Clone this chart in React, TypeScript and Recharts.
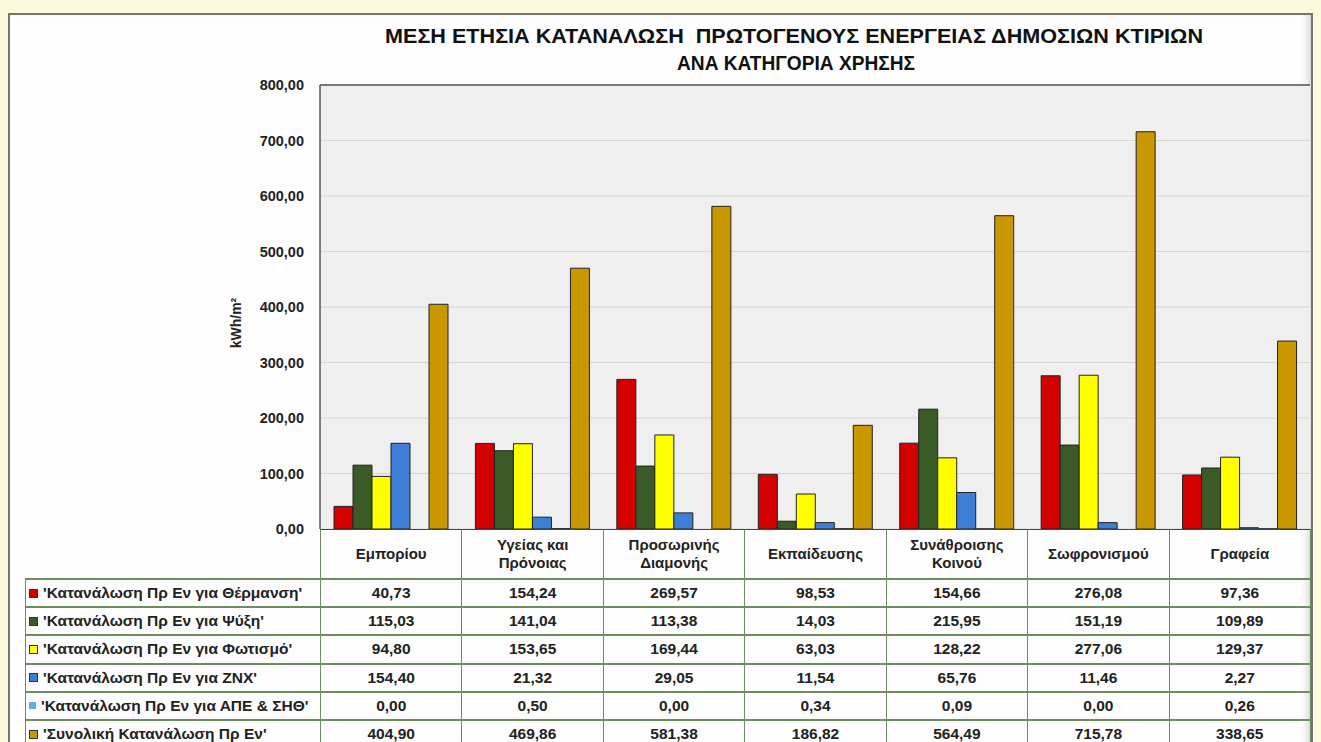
import React from 'react';
import { BarChart, Bar, XAxis, YAxis, CartesianGrid, ReferenceLine } from 'recharts';

const categories = [
  'Εμπορίου',
  'Υγείας και\nΠρόνοιας',
  'Προσωρινής\nΔιαμονής',
  'Εκπαίδευσης',
  'Συνάθροισης\nΚοινού',
  'Σωφρονισμού',
  'Γραφεία',
];

const heating = [40.73, 154.24, 269.57, 98.53, 154.66, 276.08, 97.36];
const cooling = [115.03, 141.04, 113.38, 14.03, 215.95, 151.19, 109.89];
const lighting = [94.8, 153.65, 169.44, 63.03, 128.22, 277.06, 129.37];
const dhw = [154.4, 21.32, 29.05, 11.54, 65.76, 11.46, 2.27];
const resChp = [0.0, 0.5, 0.0, 0.34, 0.09, 0.0, 0.26];
const total = [404.9, 469.86, 581.38, 186.82, 564.49, 715.78, 338.65];

const seriesNames = [
  "'Κατανάλωση Πρ Εν για Θέρμανση'",
  "'Κατανάλωση Πρ Εν για Ψύξη'",
  "'Κατανάλωση Πρ Εν για Φωτισμό'",
  "'Κατανάλωση Πρ Εν για ΖΝΧ'",
  "'Κατανάλωση Πρ Εν για ΑΠΕ & ΣΗΘ'",
  "'Συνολική Κατανάλωση Πρ Εν'",
];
const seriesValues = [heating, cooling, lighting, dhw, resChp, total];
const seriesColors = ['#d40000', '#3a5a28', '#ffff00', '#3d7ed6', '#5aaeea', '#c99700'];

const yTicks = [0, 100, 200, 300, 400, 500, 600, 700, 800];

const data = categories.map((c, i) => {
  const row: Record<string, any> = { name: c };
  seriesValues.forEach((s, k) => {
    row['s' + k] = s[i];
  });
  return row;
});

const font = '"Liberation Sans", Arial, sans-serif';
const fmt = (v: number) => v.toFixed(2).replace('.', ',');

// layout (page px)
const plotLeft = 320;
const plotRight = 1310;
const plotTop = 85;
const plotBottom = 529;
const colW = (plotRight - plotLeft) / categories.length;
const headerH = 49;
const rowH = 28.2;
const gridColor = '#6f8c60';

const App: React.FC = () => {
  return (
    <div
      style={{
        position: 'absolute',
        left: 0,
        top: 0,
        width: 1321,
        height: 742,
        overflow: 'hidden',
        background: '#fcf9dc',
        fontFamily: font,
      }}
    >
      <div
        style={{
          position: 'absolute',
          left: 8,
          top: 13,
          width: 1305,
          height: 740,
          border: '2px solid #76766e',
          boxSizing: 'border-box',
          background: '#fdfdfd',
          boxShadow: 'inset -8px 0 8px -6px #c8c8c8',
        }}
      />
      <div style={{ position: 'absolute', left: 0, top: 0 }}>
        <BarChart
          width={1321}
          height={742}
          data={data}
          margin={{ top: plotTop, right: 1321 - plotRight, bottom: 742 - plotBottom, left: 240 }}
          barCategoryGap={14}
          barGap={0}
        >
          <CartesianGrid vertical={false} stroke="#d6d6d6" fill="#efefef" />
          <XAxis dataKey="name" hide />
          <YAxis
            width={80}
            domain={[0, 800]}
            ticks={yTicks}
            interval={0}
            tickFormatter={fmt}
            tickLine={false}
            tickSize={0}
            tickMargin={16}
            axisLine={{ stroke: '#555', strokeWidth: 1.5 }}
            tick={{ fill: '#222', fontSize: 14.5, fontWeight: 'bold', fontFamily: font }}
          />
          <ReferenceLine y={800} stroke="#555" strokeWidth={1.5} />
          {seriesNames.map((n, k) => (
            <Bar
              key={n}
              dataKey={'s' + k}
              name={n}
              fill={seriesColors[k]}
              stroke="#222"
              strokeWidth={1}
              isAnimationActive={false}
            />
          ))}
        </BarChart>
      </div>

      <svg
        width={1321}
        height={742}
        style={{ position: 'absolute', left: 0, top: 0, pointerEvents: 'none' }}
      >
        <text
          x={794}
          y={43}
          textAnchor="middle"
          fontSize={21}
          fontWeight="bold"
          fill="#111"
          textLength={818}
          lengthAdjust="spacingAndGlyphs"
          style={{ whiteSpace: 'pre' }}
        >
          ΜΕΣΗ ΕΤΗΣΙΑ ΚΑΤΑΝΑΛΩΣΗ  ΠΡΩΤΟΓΕΝΟΥΣ ΕΝΕΡΓΕΙΑΣ ΔΗΜΟΣΙΩΝ ΚΤΙΡΙΩΝ
        </text>
        <text
          x={796}
          y={70}
          textAnchor="middle"
          fontSize={21}
          fontWeight="bold"
          fill="#111"
          textLength={238}
          lengthAdjust="spacingAndGlyphs"
        >
          ΑΝΑ ΚΑΤΗΓΟΡΙΑ ΧΡΗΣΗΣ
        </text>
        <text
          x={0}
          y={0}
          transform="translate(241, 323) rotate(-90)"
          textAnchor="middle"
          fontSize={14}
          fontWeight="bold"
          fill="#222"
        >
          kWh/m²
        </text>
      </svg>

      {/* data table */}
      {categories.map((c, i) => (
        <div
          key={c}
          style={{
            position: 'absolute',
            left: plotLeft + i * colW,
            top: plotBottom,
            width: colW,
            height: headerH,
            boxSizing: 'border-box',
            borderLeft: `1.5px solid ${gridColor}`,
            borderTop: '1.5px solid #444',
            display: 'flex',
            alignItems: 'center',
            justifyContent: 'center',
            textAlign: 'center',
            whiteSpace: 'pre-line',
            fontSize: 15,
            fontWeight: 'bold',
            color: '#222',
            lineHeight: '18px',
          }}
        >
          {c}
        </div>
      ))}
      {seriesNames.map((n, k) => (
        <React.Fragment key={n}>
          <div
            style={{
              position: 'absolute',
              left: 25,
              top: plotBottom + headerH + k * rowH,
              width: plotLeft - 25,
              height: rowH,
              boxSizing: 'border-box',
              borderLeft: `1.5px solid ${gridColor}`,
              borderTop: `2px solid ${gridColor}`,
              display: 'flex',
              alignItems: 'center',
              paddingLeft: 3,
              fontSize: 15.5,
              fontWeight: 'bold',
              color: '#222',
              whiteSpace: 'nowrap',
              overflow: 'hidden',
            }}
          >
            <span
              style={{
                display: 'inline-block',
                flex: 'none',
                width: 7,
                height: 7,
                background: seriesColors[k],
                border: k === 4 ? 'none' : '1.5px solid #333',
                marginRight: 5,
              }}
            />
            {n}
          </div>
          {seriesValues[k].map((v, i) => (
            <div
              key={i}
              style={{
                position: 'absolute',
                left: plotLeft + i * colW,
                top: plotBottom + headerH + k * rowH,
                width: colW,
                height: rowH,
                boxSizing: 'border-box',
                borderLeft: `1.5px solid ${gridColor}`,
                borderTop: `2px solid ${gridColor}`,
                display: 'flex',
                alignItems: 'center',
                justifyContent: 'center',
                fontSize: 15.5,
                fontWeight: 'bold',
                color: '#222',
              }}
            >
              {fmt(v)}
            </div>
          ))}
        </React.Fragment>
      ))}
      <div
        style={{
          position: 'absolute',
          left: plotRight,
          top: plotBottom,
          width: 0,
          height: 742 - plotBottom,
          borderLeft: `1.5px solid ${gridColor}`,
        }}
      />
    </div>
  );
};

export default App;
